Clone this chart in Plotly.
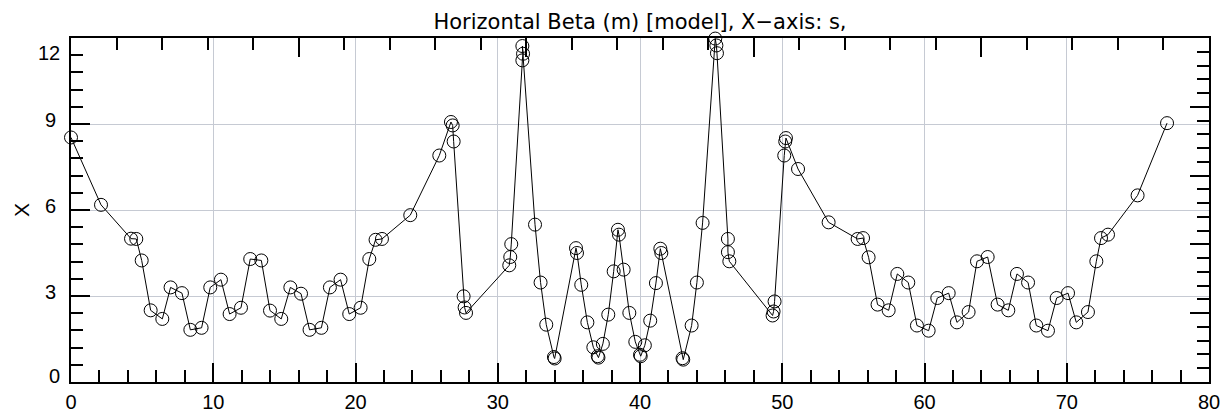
import plotly.graph_objects as go

# s positions (m) and horizontal beta values (m)
s = [0.0, 2.11, 4.22, 4.59, 4.97, 5.60, 6.42, 7.00, 7.80, 8.39, 9.18, 9.79, 10.54, 11.15, 11.95,
     12.60, 13.38, 13.99, 14.78, 15.42, 16.17, 16.77, 17.60, 18.20, 18.95, 19.56, 20.36, 20.97,
     21.41, 21.86, 23.85, 25.89, 26.71, 26.83, 26.90, 27.60, 27.67, 27.77, 30.81, 30.88, 30.95,
     31.73, 31.78, 31.73, 32.62, 33.01, 33.41, 33.95, 34.00, 35.50, 35.57, 35.87, 36.30, 36.72,
     37.03, 37.08, 37.39, 37.77, 38.15, 38.45, 38.52, 38.85, 39.25, 39.67, 40.00, 40.05, 40.34,
     40.72, 41.12, 41.43, 41.50, 42.99, 43.04, 43.63, 44.00, 44.40, 45.29, 45.37, 45.41, 46.18,
     46.18, 46.28, 49.32, 49.39, 49.46, 50.14, 50.21, 50.26, 51.11, 53.26, 55.30, 55.68, 56.07,
     56.70, 57.48, 58.09, 58.86, 59.47, 60.29, 60.90, 61.70, 62.28, 63.10, 63.69, 64.44, 65.14,
     65.89, 66.50, 67.28, 67.86, 68.68, 69.29, 70.09, 70.67, 71.49, 72.08, 72.41, 72.90, 74.98,
     77.05]
beta_x = [8.53, 6.18, 5.00, 4.99, 4.24, 2.50, 2.20, 3.30, 3.10, 1.82, 1.89, 3.30, 3.57, 2.37, 2.59,
          4.29, 4.24, 2.49, 2.20, 3.30, 3.08, 1.82, 1.89, 3.30, 3.57, 2.37, 2.59, 4.29,
          4.96, 4.99, 5.82, 7.90, 9.07, 8.95, 8.39, 2.99, 2.60, 2.41, 4.07, 4.36, 4.81,
          11.22, 11.45, 11.72, 5.49, 3.47, 2.00, 0.87, 0.82, 4.67, 4.50, 3.39, 2.08, 1.21,
          0.90, 0.85, 1.33, 2.35, 3.86, 5.31, 5.14, 3.92, 2.41, 1.40, 0.95, 0.90, 1.28,
          2.14, 3.45, 4.65, 4.50, 0.83, 0.78, 1.97, 3.47, 5.55, 11.98, 11.74, 11.47, 4.99,
          4.53, 4.21, 2.32, 2.46, 2.81, 7.90, 8.39, 8.51, 7.43, 5.57, 4.99, 5.02, 4.35,
          2.70, 2.50, 3.77, 3.47, 1.97, 1.79, 2.93, 3.10, 2.08, 2.44, 4.21, 4.36, 2.70,
          2.50, 3.77, 3.47, 1.97, 1.79, 2.93, 3.10, 2.08, 2.44, 4.21, 5.02, 5.14, 6.51,
          9.03]

x_range = [0, 80]
y_range = [0, 12]
x_ticks = [0, 10, 20, 30, 40, 50, 60, 70, 80]
y_ticks = [0, 3, 6, 9, 12]
y_ticktext = ["", "3", "6", "9", ""]
edge_labels = [(0, "0", 6), (12, "12", -15)]

title_text = "Horizontal Beta (m) [model], X\u2212axis: s,"
y_title = "X"

GRID = "#c6cad3"
TICKFONT = dict(family="Liberation Sans, Arial, sans-serif", size=20, color="black")

fig = go.Figure()
fig.add_trace(go.Scatter(
    x=s, y=beta_x, mode="lines+markers",
    line=dict(color="black", width=1),
    marker=dict(symbol="circle-open", size=13, color="black", line=dict(width=1)),
    showlegend=False, cliponaxis=False,
))
# empty trace to activate the secondary (top / right) tick axes
fig.add_trace(go.Scatter(x=[], y=[], xaxis="x2", yaxis="y2", showlegend=False, hoverinfo="skip"))

fig.update_layout(
    width=1224, height=417,
    margin=dict(l=71, r=15, t=38, b=35, autoexpand=False),
    paper_bgcolor="white", plot_bgcolor="white",
    title=dict(text=title_text, x=0.5, xanchor="center", y=1 - 21.5 / 417, yanchor="middle",
               xref="paper",
               font=dict(family="DejaVu Sans, sans-serif", size=21, color="black")),
    xaxis=dict(
        range=x_range, tickmode="array", tickvals=x_ticks, automargin=False,
        ticks="inside", ticklen=19, tickwidth=2, tickcolor="black",
        showline=True, linecolor="black", linewidth=2, mirror=True,
        showgrid=True, gridcolor=GRID, gridwidth=1, zeroline=False,
        tickfont=TICKFONT, ticklabelstandoff=1,
        minor=dict(tickmode="linear", tick0=0, dtick=2, ticks="inside", ticklen=12,
                   tickwidth=2, tickcolor="black", showgrid=False),
    ),
    yaxis=dict(
        range=y_range, tickmode="array", tickvals=y_ticks, ticktext=y_ticktext, automargin=False,
        ticks="inside", ticklen=19, tickwidth=2, tickcolor="black",
        showline=True, linecolor="black", linewidth=2, mirror=True,
        showgrid=True, gridcolor=GRID, gridwidth=1, zeroline=False,
        tickfont=TICKFONT, ticklabelstandoff=9, ticklabelshift=-4,
        title=dict(text=y_title, font=dict(family="Liberation Sans, Arial, sans-serif", size=21,
                                           color="black"), standoff=10),
        minor=dict(tickmode="linear", tick0=0, dtick=0.6, ticks="inside", ticklen=12,
                   tickwidth=2, tickcolor="black", showgrid=False),
    ),
    xaxis2=dict(
        overlaying="x", side="top", range=[0, 5], tickmode="linear", tick0=0, dtick=1,
        automargin=False,
        ticks="inside", ticklen=19, tickwidth=2, tickcolor="black",
        showticklabels=False, showgrid=False, showline=False, zeroline=False,
        minor=dict(tickmode="linear", tick0=0, dtick=0.2, ticks="inside", ticklen=12,
                   tickwidth=2, tickcolor="black", showgrid=False),
    ),
    yaxis2=dict(
        overlaying="y", side="right", range=[0, 5], tickmode="linear", tick0=0, dtick=1,
        automargin=False,
        ticks="inside", ticklen=19, tickwidth=2, tickcolor="black",
        showticklabels=False, showgrid=False, showline=False, zeroline=False,
        minor=dict(tickmode="linear", tick0=0, dtick=0.2, ticks="inside", ticklen=12,
                   tickwidth=2, tickcolor="black", showgrid=False),
    ),
)

for yv, txt, shift in edge_labels:
    fig.add_annotation(x=0, xref="paper", y=yv, yref="y", text=txt, showarrow=False,
                       xanchor="right", yanchor="middle", xshift=-9, yshift=shift,
                       font=TICKFONT)

fig.write_html("out.html")
